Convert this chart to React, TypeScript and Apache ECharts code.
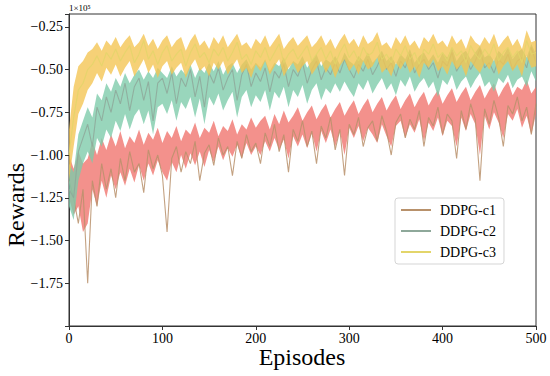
import React, { useEffect, useRef } from "react";
import * as echarts from "echarts";

const names = ["DDPG-c1", "DDPG-c2", "DDPG-c3"];
const step = 5;
const yTicks = [-1.75, -1.5, -1.25, -1.0, -0.75, -0.5, -0.25];

const c1Line = [
  -1.15, -1.25, -1.40, -1.20, -1.75, -1.15, -1.30, -1.05, -1.20, -1.08, -1.25, -1.02, -1.15, -0.98, -1.10, -1.05, -1.22, -0.97, -1.08, -1.00, -1.12,
  -1.45, -1.02, -0.95, -1.10, -0.98, -1.05, -0.92, -1.15, -0.99, -0.94, -1.06, -0.90, -1.00, -0.95, -1.12, -0.92, -1.02, -0.88, -0.98, -0.93,
  -1.05, -0.87, -0.95, -0.82, -0.98, -0.88, -1.10, -0.85, -0.92, -0.80, -0.95, -0.86, -1.05, -0.83, -0.90, -0.78, -0.97, -0.85, -1.12, -0.82,
  -0.88, -0.78, -0.95, -0.84, -0.80, -0.92, -0.77, -0.86, -1.00, -0.81, -0.76, -0.90, -0.79, -0.85, -0.74, -0.95, -0.78, -0.83, -0.72, -0.88,
  -0.76, -0.80, -1.02, -0.74, -0.85, -0.70, -0.79, -1.15, -0.73, -0.82, -0.68, -0.78, -0.95, -0.71, -0.76, -0.66, -0.80, -0.72, -0.88, -0.70,
];
const c2Line = [
  -1.20, -1.25, -0.98, -0.90, -0.82, -0.95, -0.72, -0.80, -0.66, -0.75, -0.62, -0.70, -0.58, -0.74, -0.60, -0.55, -0.68, -0.57, -0.80, -0.58, -0.55,
  -0.64, -0.52, -0.70, -0.55, -0.60, -0.50, -0.66, -0.54, -0.72, -0.52, -0.58, -0.49, -0.62, -0.55, -0.50, -0.68, -0.53, -0.47, -0.60, -0.52,
  -0.57, -0.49, -0.63, -0.51, -0.55, -0.47, -0.60, -0.50, -0.54, -0.46, -0.58, -0.50, -0.45, -0.56, -0.49, -0.53, -0.46, -0.52, -0.44, -0.50,
  -0.55, -0.47, -0.51, -0.44, -0.53, -0.48, -0.42, -0.50, -0.46, -0.54, -0.45, -0.49, -0.41, -0.52, -0.47, -0.44, -0.50, -0.46, -0.55, -0.45,
  -0.48, -0.40, -0.51, -0.46, -0.43, -0.50, -0.45, -0.38, -0.49, -0.46, -0.52, -0.44, -0.47, -0.41, -0.50, -0.45, -0.43, -0.49, -0.37, -0.46,
];
const c3Line = [
  -1.00, -0.78, -0.62, -0.58, -0.50, -0.47, -0.42, -0.48, -0.40, -0.44, -0.38, -0.45, -0.40, -0.36, -0.46, -0.41, -0.33, -0.44, -0.39, -0.47, -0.40,
  -0.36, -0.45, -0.41, -0.38, -0.48, -0.40, -0.35, -0.43, -0.40, -0.46, -0.38, -0.42, -0.37, -0.45, -0.40, -0.34, -0.44, -0.41, -0.47, -0.39,
  -0.43, -0.37, -0.45, -0.40, -0.35, -0.46, -0.41, -0.38, -0.44, -0.40, -0.36, -0.45, -0.41, -0.37, -0.44, -0.39, -0.47, -0.40, -0.35, -0.43,
  -0.39, -0.45, -0.37, -0.42, -0.40, -0.34, -0.44, -0.41, -0.46, -0.38, -0.42, -0.36, -0.44, -0.40, -0.47, -0.38, -0.41, -0.35, -0.43, -0.40,
  -0.45, -0.37, -0.42, -0.39, -0.46, -0.36, -0.41, -0.44, -0.38, -0.42, -0.35, -0.45, -0.40, -0.37, -0.43, -0.39, -0.46, -0.33, -0.41, -0.40,
];

const c1Upper = [
  -1.00, -1.08, -0.98, -1.05, -1.02, -0.92, -1.00, -0.90, -0.97, -0.88, -0.95, -0.86, -0.96, -0.89, -0.93, -0.85, -0.94, -0.87, -0.91, -0.84, -0.93,
  -0.86, -0.90, -0.83, -0.92, -0.85, -0.88, -0.81, -0.90, -0.84, -0.87, -0.80, -0.89, -0.83, -0.86, -0.79, -0.88, -0.82, -0.85, -0.78, -0.84,
  -0.80, -0.77, -0.85, -0.76, -0.82, -0.74, -0.81, -0.77, -0.72, -0.80, -0.75, -0.71, -0.79, -0.74, -0.70, -0.78, -0.73, -0.69, -0.77, -0.72,
  -0.68, -0.76, -0.71, -0.67, -0.75, -0.70, -0.66, -0.74, -0.69, -0.65, -0.73, -0.68, -0.64, -0.72, -0.67, -0.63, -0.71, -0.66, -0.62, -0.70,
  -0.65, -0.61, -0.69, -0.64, -0.60, -0.68, -0.63, -0.59, -0.67, -0.62, -0.58, -0.66, -0.61, -0.57, -0.65, -0.60, -0.62, -0.56, -0.64, -0.60,
];
const c1Lower = [
  -1.25, -1.35, -1.30, -1.45, -1.40, -1.20, -1.30, -1.15, -1.25, -1.12, -1.20, -1.10, -1.18, -1.08, -1.16, -1.06, -1.15, -1.05, -1.12, -1.03, -1.10,
  -1.15, -1.04, -1.10, -1.00, -1.08, -0.99, -1.06, -0.98, -1.07, -0.97, -1.04, -0.95, -1.03, -0.96, -1.01, -0.94, -1.02, -0.93, -1.00, -0.95,
  -1.00, -0.92, -0.98, -0.90, -0.97, -0.91, -1.02, -0.89, -0.95, -0.88, -0.96, -0.87, -0.98, -0.86, -0.93, -0.85, -0.95, -0.86, -1.00, -0.84,
  -0.90, -0.83, -0.92, -0.84, -0.88, -0.93, -0.82, -0.89, -0.95, -0.83, -0.80, -0.90, -0.82, -0.87, -0.79, -0.92, -0.81, -0.86, -0.78, -0.89,
  -0.80, -0.83, -0.95, -0.78, -0.86, -0.76, -0.82, -1.00, -0.77, -0.85, -0.75, -0.81, -0.90, -0.76, -0.80, -0.73, -0.84, -0.77, -0.88, -0.76,
];
const c2Upper = [
  -1.05, -1.10, -0.88, -0.80, -0.72, -0.78, -0.64, -0.68, -0.58, -0.63, -0.55, -0.60, -0.52, -0.58, -0.53, -0.50, -0.56, -0.51, -0.55, -0.49, -0.52,
  -0.55, -0.48, -0.54, -0.50, -0.53, -0.47, -0.55, -0.49, -0.52, -0.46, -0.51, -0.45, -0.53, -0.48, -0.46, -0.52, -0.47, -0.44, -0.50, -0.46,
  -0.49, -0.44, -0.51, -0.46, -0.48, -0.43, -0.50, -0.45, -0.47, -0.42, -0.49, -0.45, -0.41, -0.48, -0.44, -0.46, -0.42, -0.47, -0.40, -0.45,
  -0.47, -0.42, -0.45, -0.40, -0.46, -0.43, -0.39, -0.45, -0.42, -0.47, -0.41, -0.44, -0.38, -0.46, -0.42, -0.40, -0.45, -0.41, -0.46, -0.40,
  -0.43, -0.37, -0.45, -0.41, -0.39, -0.44, -0.40, -0.36, -0.43, -0.41, -0.45, -0.39, -0.42, -0.37, -0.44, -0.40, -0.38, -0.43, -0.35, -0.41,
];
const c2Lower = [
  -1.30, -1.38, -1.15, -1.05, -0.98, -1.05, -0.90, -0.95, -0.85, -0.90, -0.80, -0.86, -0.76, -0.85, -0.77, -0.73, -0.82, -0.74, -0.88, -0.72, -0.70,
  -0.76, -0.68, -0.80, -0.69, -0.73, -0.66, -0.78, -0.67, -0.82, -0.66, -0.71, -0.64, -0.74, -0.68, -0.63, -0.78, -0.66, -0.62, -0.72, -0.65,
  -0.69, -0.62, -0.74, -0.63, -0.67, -0.60, -0.72, -0.62, -0.66, -0.59, -0.70, -0.62, -0.58, -0.68, -0.61, -0.64, -0.58, -0.63, -0.57, -0.62,
  -0.66, -0.58, -0.62, -0.56, -0.64, -0.59, -0.55, -0.62, -0.58, -0.65, -0.56, -0.60, -0.54, -0.63, -0.58, -0.55, -0.61, -0.57, -0.66, -0.56,
  -0.59, -0.53, -0.62, -0.57, -0.54, -0.61, -0.56, -0.52, -0.60, -0.57, -0.63, -0.55, -0.58, -0.53, -0.61, -0.56, -0.54, -0.60, -0.51, -0.57,
];
const c3Upper = [
  -0.85, -0.60, -0.48, -0.45, -0.40, -0.38, -0.34, -0.39, -0.33, -0.36, -0.31, -0.37, -0.33, -0.30, -0.37, -0.34, -0.29, -0.36, -0.32, -0.38, -0.33,
  -0.30, -0.37, -0.33, -0.31, -0.39, -0.33, -0.29, -0.36, -0.33, -0.38, -0.31, -0.35, -0.30, -0.37, -0.33, -0.29, -0.36, -0.34, -0.38, -0.32,
  -0.35, -0.30, -0.37, -0.33, -0.29, -0.38, -0.34, -0.31, -0.36, -0.33, -0.30, -0.37, -0.34, -0.30, -0.36, -0.32, -0.38, -0.33, -0.29, -0.35,
  -0.32, -0.37, -0.30, -0.35, -0.33, -0.28, -0.36, -0.34, -0.38, -0.31, -0.35, -0.30, -0.36, -0.33, -0.38, -0.31, -0.34, -0.29, -0.35, -0.33,
  -0.37, -0.30, -0.35, -0.32, -0.38, -0.30, -0.34, -0.36, -0.31, -0.35, -0.29, -0.37, -0.33, -0.30, -0.36, -0.32, -0.38, -0.27, -0.34, -0.33,
];
const c3Lower = [
  -1.15, -0.95, -0.76, -0.70, -0.62, -0.58, -0.52, -0.57, -0.49, -0.53, -0.47, -0.54, -0.49, -0.45, -0.54, -0.49, -0.44, -0.52, -0.47, -0.55, -0.48,
  -0.45, -0.53, -0.49, -0.46, -0.55, -0.48, -0.44, -0.51, -0.48, -0.54, -0.46, -0.50, -0.45, -0.53, -0.48, -0.44, -0.52, -0.49, -0.55, -0.47,
  -0.51, -0.45, -0.53, -0.48, -0.44, -0.54, -0.49, -0.46, -0.52, -0.48, -0.45, -0.53, -0.49, -0.45, -0.52, -0.47, -0.55, -0.48, -0.44, -0.51,
  -0.47, -0.53, -0.45, -0.50, -0.48, -0.43, -0.52, -0.49, -0.54, -0.46, -0.50, -0.45, -0.52, -0.48, -0.55, -0.46, -0.49, -0.44, -0.51, -0.48,
  -0.53, -0.45, -0.50, -0.47, -0.54, -0.45, -0.49, -0.52, -0.46, -0.50, -0.44, -0.53, -0.48, -0.45, -0.51, -0.47, -0.54, -0.42, -0.49, -0.48,
];

const lines = [c1Line, c2Line, c3Line];
const uppers = [c1Upper, c2Upper, c3Upper];
const lowers = [c1Lower, c2Lower, c3Lower];
const lineColors = ["#b8916b", "#8ea89a", "#e3d56a"];
const bandColors = ["#f0726c", "#7ccaa9", "#f3c451"];

const FONT = "'Liberation Serif', 'Times New Roman', serif";

export default function App() {
  const ref = useRef<HTMLDivElement>(null);
  useEffect(() => {
    if (!ref.current) return;
    const chart = echarts.init(ref.current, undefined, { renderer: "svg" });
    const series: any[] = [];
    for (let s = 0; s < 3; s++) {
      const up = uppers[s];
      const lo = lowers[s];
      series.push({
        type: "custom",
        name: names[s] + " band",
        data: [[0, -1]],
        clip: true,
        silent: true,
        z: s * 2,
        renderItem: (params: any, api: any) => {
          const pts: number[][] = [];
          for (let i = 0; i < up.length; i++) pts.push(api.coord([i * step, up[i]]));
          for (let i = lo.length - 1; i >= 0; i--) pts.push(api.coord([i * step, lo[i]]));
          return {
            type: "polygon",
            shape: { points: pts },
            style: { fill: bandColors[s], opacity: 0.78 },
          };
        },
      });
      series.push({
        type: "line",
        name: names[s],
        data: lines[s].map((v, i) => [i * step, v]),
        symbol: "none",
        z: s * 2 + 1,
        color: lineColors[s],
        lineStyle: { color: lineColors[s], width: 1.1, opacity: 0.85 },
      });
    }
    chart.setOption({
      animation: false,
      grid: { left: 69, right: 14, top: 14, bottom: 50, show: true, borderColor: "#333", borderWidth: 1 },
      xAxis: {
        type: "value",
        min: 0,
        max: 500,
        interval: 100,
        splitLine: { show: false },
        axisLine: { lineStyle: { color: "#333" } },
        axisTick: { length: 4, lineStyle: { color: "#333" } },
        axisLabel: { fontFamily: FONT, fontSize: 14, color: "#000", margin: 5 },
      },
      yAxis: {
        type: "value",
        min: -2.0,
        max: -0.175,
        interval: 0.25,
        splitLine: { show: false },
        axisLine: { show: true, lineStyle: { color: "#333" } },
        axisTick: { length: 4, lineStyle: { color: "#333" } },
        axisLabel: {
          fontFamily: FONT,
          fontSize: 14,
          color: "#000",
          margin: 6,
          formatter: (v: number) => {
            const hit = yTicks.find((t) => Math.abs(t - v) < 1e-6);
            return hit === undefined ? "" : "\u2212" + Math.abs(hit).toFixed(2);
          },
        },
      },
      legend: {
        data: names,
        orient: "vertical",
        left: 395,
        top: 198,
        icon: "rect",
        itemWidth: 30,
        itemHeight: 2,
        itemGap: 7,
        padding: [5, 8, 5, 6],
        borderColor: "#d5d5d5",
        borderWidth: 1,
        borderRadius: 3,
        backgroundColor: "rgba(255,255,255,0.8)",
        textStyle: { fontFamily: FONT, fontSize: 14, color: "#000", padding: [0, 0, 0, 4] },
      },
      graphic: [
        {
          type: "text",
          x: 16,
          y: 205,
          rotation: Math.PI / 2,
          style: { text: "Rewards", font: "24px " + FONT, fill: "#000", align: "center", verticalAlign: "middle" },
        },
        {
          type: "text",
          x: 302,
          y: 357,
          style: { text: "Episodes", font: "24px " + FONT, fill: "#000", align: "center", verticalAlign: "middle" },
        },
        {
          type: "text",
          x: 69,
          y: 8,
          style: { text: "1\u00d710\u2075", font: "9px " + FONT, fill: "#000", align: "left", verticalAlign: "middle" },
        },
      ],
      series,
    });
    return () => chart.dispose();
  }, []);
  return <div ref={ref} style={{ width: 550, height: 376, position: "absolute", left: 0, top: 0 }} />;
}
